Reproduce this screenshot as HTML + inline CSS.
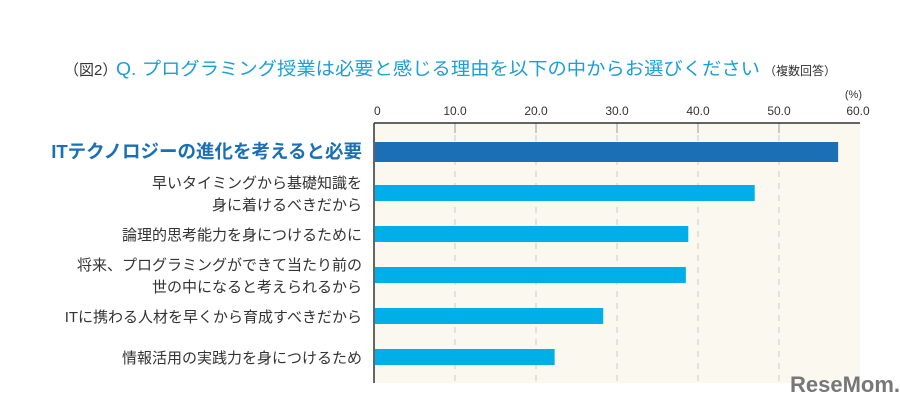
<!DOCTYPE html>
<html><head><meta charset="utf-8"><style>
body{margin:0;width:900px;height:404px;background:#fff;overflow:hidden;font-family:"Liberation Sans","Noto Sans CJK JP",sans-serif;}
svg text{font-family:"Liberation Sans","Noto Sans CJK JP",sans-serif;}
</style></head><body>
<svg id="c" width="900" height="404">
<text x="64" y="75" font-size="15" fill="#333">（図2）</text>
<text x="116" y="75" font-size="18" fill="#1a9fd6" textLength="644" lengthAdjust="spacingAndGlyphs">Q. プログラミング授業は必要と感じる理由を以下の中からお選びください</text>
<text x="764" y="75" font-size="12" fill="#333">（複数回答）</text>
<text x="862" y="98" font-size="11" fill="#333" text-anchor="end">(%)</text>
<g id="g"></g>
<text x="790" y="392" font-size="22" font-weight="bold" fill="#777">ReseMom.</text>
</svg>
<script>
const categories=[["ITテクノロジーの進化を考えると必要"],["早いタイミングから基礎知識を","身に着けるべきだから"],["論理的思考能力を身につけるために"],["将来、プログラミングができて当たり前の","世の中になると考えられるから"],["ITに携わる人材を早くから育成すべきだから"],["情報活用の実践力を身につけるため"]];
const values=[57.3,47.0,38.8,38.5,28.3,22.3];
const ticks=[0,10,20,30,40,50,60];
const tickLabels=["0","10.0","20.0","30.0","40.0","50.0","60.0"];
const NS="http://www.w3.org/2000/svg",g=document.getElementById('g');
const x0=374,x1=860,yTop=123,yBot=383;
const xs=v=>x0+(v/60)*(x1-x0);
const yc=i=>152+i*41;
function el(t,a){const e=document.createElementNS(NS,t);for(const k in a)e.setAttribute(k,a[k]);g.appendChild(e);return e;}
let bg=el('rect',{x:x0,y:yTop,width:x1-x0,height:yBot-yTop,fill:'#fbf9ef'});


ticks.forEach((t,i)=>{
 if(i>0&&i<ticks.length-1){
  let l=el('line',{x1:xs(t),x2:xs(t),y1:yTop,y2:yBot,stroke:'#ccc','stroke-dasharray':'6,6'});
  
  
 }
 if(i<ticks.length-1){el('line',{x1:xs(t),x2:xs(t),y1:yTop,y2:yTop+10,stroke:'#999'});}
 let tx=el('text',{x:xs(t)+(i==ticks.length-1?-2:0),y:yTop-8,'font-size':12,fill:'#333','text-anchor':i==0?'start':'middle'});
 tx.textContent=tickLabels[i];
 
 
});
let ax=el('line',{x1:x0,x2:x1,y1:yTop,y2:yTop,stroke:'#333','stroke-width':1.5});


let ay=el('line',{x1:x0,x2:x0,y1:yTop,y2:yBot,stroke:'#333','stroke-width':1.5});


values.forEach((v,i)=>{
 const c=yc(i);
 let r=el('rect',{x:x0+1,y:c-(i===0?10:8),width:xs(v)-x0-1,height:i===0?20:16,fill:i===0?'#1a6fb5':'#00aee8'});
 
 
 const lines=categories[i];
 lines.forEach((s,j)=>{
  const y=c+(j-(lines.length-1)/2)*22+6;
  let t=el('text',{x:362,y:y,'text-anchor':'end','font-size':i===0?18.5:15,'font-weight':i===0?'bold':'normal',fill:i===0?'#1a6fb5':'#333'});
  t.textContent=s;
  
  
 });
});
</script>
</body></html>
